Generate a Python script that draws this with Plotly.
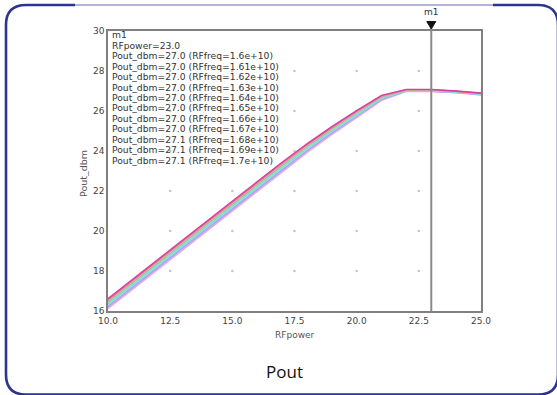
import plotly.graph_objects as go

# ---------------- data ----------------
rf_power = [10, 11, 12, 13, 14, 15, 16, 17, 18, 19, 20, 21, 22, 23, 24, 25]

freq_labels = ["1.6e+10", "1.61e+10", "1.62e+10", "1.63e+10", "1.64e+10", "1.65e+10",
               "1.66e+10", "1.67e+10", "1.68e+10", "1.69e+10", "1.7e+10"]

pout_160 = [16.12, 17.10, 18.08, 19.06, 20.04, 21.02, 21.99, 22.94, 23.91, 24.82, 25.67, 26.53, 26.98, 26.97, 26.91, 26.80]
pout_161 = [16.17, 17.15, 18.13, 19.11, 20.09, 21.07, 22.04, 22.99, 23.96, 24.86, 25.71, 26.56, 26.99, 26.98, 26.92, 26.81]
pout_162 = [16.22, 17.20, 18.18, 19.16, 20.14, 21.12, 22.09, 23.04, 24.00, 24.90, 25.74, 26.58, 27.00, 26.99, 26.93, 26.82]
pout_163 = [16.27, 17.25, 18.23, 19.21, 20.19, 21.17, 22.14, 23.09, 24.05, 24.94, 25.78, 26.61, 27.01, 27.00, 26.94, 26.83]
pout_164 = [16.32, 17.30, 18.28, 19.26, 20.24, 21.22, 22.19, 23.14, 24.09, 24.98, 25.81, 26.63, 27.02, 27.01, 26.95, 26.84]
pout_165 = [16.37, 17.35, 18.33, 19.31, 20.29, 21.27, 22.24, 23.19, 24.14, 25.02, 25.85, 26.66, 27.03, 27.02, 26.96, 26.85]
pout_166 = [16.42, 17.40, 18.38, 19.36, 20.34, 21.32, 22.29, 23.24, 24.18, 25.06, 25.88, 26.68, 27.04, 27.03, 26.97, 26.86]
pout_167 = [16.47, 17.45, 18.43, 19.41, 20.39, 21.37, 22.34, 23.29, 24.23, 25.10, 25.92, 26.71, 27.05, 27.04, 26.98, 26.87]
pout_168 = [16.52, 17.50, 18.48, 19.46, 20.44, 21.42, 22.39, 23.34, 24.27, 25.14, 25.95, 26.73, 27.06, 27.06, 26.98, 26.88]
pout_169 = [16.57, 17.55, 18.53, 19.51, 20.49, 21.47, 22.44, 23.39, 24.32, 25.18, 25.99, 26.76, 27.07, 27.07, 26.99, 26.89]
pout_170 = [16.62, 17.60, 18.58, 19.56, 20.54, 21.52, 22.49, 23.44, 24.36, 25.22, 26.02, 26.78, 27.08, 27.08, 27.00, 26.90]

series = [pout_160, pout_161, pout_162, pout_163, pout_164, pout_165,
          pout_166, pout_167, pout_168, pout_169, pout_170]

marker_rf = 23.0
marker_name = "m1"
marker_pout = [27.0, 27.0, 27.0, 27.0, 27.0, 27.0, 27.0, 27.0, 27.1, 27.1, 27.1]

x_ticks = [10.0, 12.5, 15.0, 17.5, 20.0, 22.5, 25.0]
y_ticks = [16, 18, 20, 22, 24, 26, 28, 30]

# ---------------- styling ----------------
colors = ["#f4aac8", "#d8b0f0", "#b8a0f0", "#9aa8f0", "#a0e4f0", "#70d4e0",
          "#a8e4a8", "#7ecc7e", "#f0a0c8", "#ee6a8a", "#d63fa0"]

W, H = 557, 395
PL, PR, PT, PB = 108, 481, 31, 311
X0, X1 = 10.0, 25.0


def xp(px):
    return (px - PL) / (PR - PL)


def yp(py):
    return (PB - py) / (PB - PT)


def data_to_px(xv):
    return PL + (xv - X0) / (X1 - X0) * (PR - PL)


fig = go.Figure()

# grid dots at tick intersections
gx, gy = [], []
for xv in x_ticks[1:-1]:
    for yv in y_ticks[1:-1]:
        gx.append(xv)
        gy.append(yv)
fig.add_trace(go.Scatter(x=gx, y=gy, mode="markers",
                         marker=dict(size=2.5, color="#c4c4c4"),
                         hoverinfo="skip", showlegend=False))

for s, c, f in zip(series, colors, freq_labels):
    fig.add_trace(go.Scatter(x=rf_power, y=s, mode="lines",
                             line=dict(color=c, width=1.4),
                             name=f, showlegend=False))

# marker m1: vertical line + triangle + label
mx = data_to_px(marker_rf)
fig.add_shape(type="line", x0=xp(mx), x1=xp(mx), y0=0, y1=yp(24),
              xref="paper", yref="paper", line=dict(color="#8a8a8a", width=2))
tri = "M %f,%f L %f,%f L %f,%f Z" % (xp(mx - 4.5), yp(21.5), xp(mx + 4.5), yp(21.5),
                                     xp(mx), yp(29))
fig.add_shape(type="path", path=tri, xref="paper", yref="paper",
              fillcolor="#111", line=dict(color="#111", width=1))
fig.add_annotation(x=marker_rf, xref="x", y=yp(12), yref="paper",
                   text=marker_name, showarrow=False,
                   font=dict(family="DejaVu Sans", size=9, color="#333"),
                   xanchor="center", yanchor="middle")

# marker readout text
lines = [marker_name, "RFpower=%.1f" % marker_rf]
for v, f in zip(marker_pout, freq_labels):
    lines.append("Pout_dbm=%.1f (RFfreq=%s)" % (v, f))
for i, t in enumerate(lines):
    fig.add_annotation(x=xp(110), xref="paper", y=yp(35 + i * 10.42), yref="paper",
                       text=t, showarrow=False, xanchor="left", yanchor="middle",
                       font=dict(family="DejaVu Sans", size=9.2, color="#333"))

# axis titles
fig.add_annotation(x=0.5, xref="paper", y=yp(335), yref="paper", text="RFpower",
                   showarrow=False, xanchor="center", yanchor="middle",
                   font=dict(family="DejaVu Sans", size=9, color="#555"))
fig.add_annotation(x=xp(83), xref="paper", y=yp(174), yref="paper", text="Pout_dbm",
                   showarrow=False, xanchor="center", yanchor="middle", textangle=-90,
                   font=dict(family="DejaVu Sans", size=9.5, color="#555"))

# caption
fig.add_annotation(x=xp(284), xref="paper", y=yp(371), yref="paper", text="Pout",
                   showarrow=False, xanchor="center", yanchor="middle",
                   font=dict(family="Open Sans", size=17, color="#111"))

# rounded frame
bx0, bx1, by0, by1, r = 6, 558, 5, 394.5, 20


def P(a, b):
    return "%f,%f" % (xp(a), yp(b))


path = ("M " + P(75, by0) + " L " + P(bx0 + r, by0) +
        " Q " + P(bx0, by0) + " " + P(bx0, by0 + r) +
        " L " + P(bx0, by1 - r) +
        " Q " + P(bx0, by1) + " " + P(bx0 + r, by1) +
        " L " + P(bx1 - r, by1) +
        " Q " + P(bx1, by1) + " " + P(bx1, by1 - r) +
        " L " + P(bx1, by0 + r) +
        " Q " + P(bx1, by0) + " " + P(bx1 - r, by0) +
        " L " + P(493, by0))
fig.add_shape(type="path", path=path, xref="paper", yref="paper",
              line=dict(color="#2e3590", width=2.6))
fig.add_shape(type="line", x0=xp(75), x1=xp(493), y0=yp(by0), y1=yp(by0),
              xref="paper", yref="paper", line=dict(color="#9a9ac4", width=1.5))

axis_common = dict(showgrid=False, zeroline=False, showline=True, mirror=True,
                   linecolor="#808080", linewidth=1.5, ticks="",
                   tickfont=dict(family="DejaVu Sans", size=9, color="#444"))

fig.update_layout(
    width=W, height=H,
    margin=dict(l=PL, r=W - PR, t=PT, b=H - PB),
    paper_bgcolor="white", plot_bgcolor="white",
    showlegend=False,
    xaxis=dict(range=[X0, X1], tickvals=x_ticks,
               ticktext=["%.1f" % v for v in x_ticks], **axis_common),
    yaxis=dict(range=[16, 30], tickvals=y_ticks,
               ticktext=[str(v) for v in y_ticks], **axis_common),
)

fig.write_html("out.html",
               config={"displayModeBar": False},
               post_script="document.body.style.margin='0';document.body.style.overflow='hidden';")
